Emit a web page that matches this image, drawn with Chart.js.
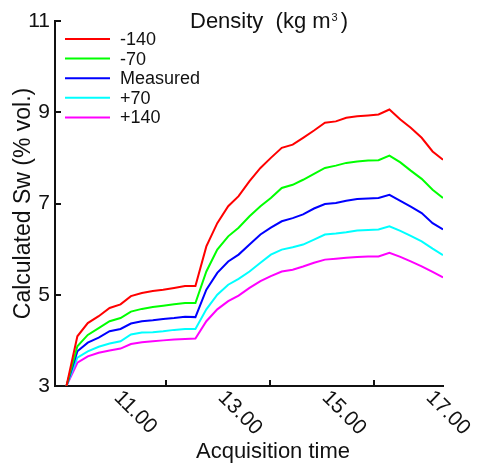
<!DOCTYPE html>
<html>
<head>
<meta charset="utf-8">
<script src="https://cdn.jsdelivr.net/npm/chart.js@4.4.1/dist/chart.umd.min.js"></script>
<style>
  html, body { margin: 0; padding: 0; background: #fff; }
  #wrap { width: 479px; height: 467px; }
</style>
</head>
<body>
<div id="wrap"><canvas id="swChart" width="479" height="467"></canvas></div>
<script>
// acquisition times in decimal hours
const times = [10.09, 10.30, 10.50, 10.71, 10.92, 11.13, 11.33, 11.54, 11.75, 11.95, 12.16, 12.37,
  12.57, 12.78, 12.99, 13.20, 13.40, 13.61, 13.82, 14.02, 14.23, 14.44, 14.64, 14.85,
  15.06, 15.27, 15.47, 15.68, 15.89, 16.09, 16.30, 16.51, 16.71, 16.92, 17.13, 17.33];

const swMinus140 = [3.0, 4.09, 4.38, 4.53, 4.71, 4.79, 4.97, 5.04, 5.08, 5.11, 5.15, 5.19,
  5.19, 6.06, 6.57, 6.94, 7.16, 7.49, 7.78, 8.00, 8.22, 8.29, 8.44, 8.60,
  8.77, 8.80, 8.88, 8.91, 8.93, 8.95, 9.06, 8.84, 8.66, 8.44, 8.14, 7.96];
const swMinus70 = [3.0, 3.87, 4.12, 4.27, 4.42, 4.49, 4.63, 4.69, 4.73, 4.76, 4.79, 4.82,
  4.82, 5.51, 5.99, 6.28, 6.47, 6.72, 6.94, 7.12, 7.34, 7.41, 7.52, 7.65,
  7.78, 7.83, 7.89, 7.92, 7.94, 7.95, 8.05, 7.90, 7.72, 7.54, 7.30, 7.12];
const swMeasured = [3.0, 3.76, 3.95, 4.06, 4.20, 4.25, 4.37, 4.42, 4.44, 4.47, 4.49, 4.52,
  4.51, 5.11, 5.48, 5.73, 5.88, 6.10, 6.32, 6.47, 6.61, 6.68, 6.76, 6.89,
  6.99, 7.01, 7.06, 7.10, 7.11, 7.12, 7.19, 7.06, 6.93, 6.79, 6.57, 6.43];
const swPlus70 = [3.0, 3.62, 3.76, 3.86, 3.93, 3.98, 4.13, 4.17, 4.18, 4.20, 4.23, 4.25,
  4.25, 4.68, 5.00, 5.22, 5.35, 5.51, 5.70, 5.88, 5.99, 6.04, 6.10, 6.21,
  6.32, 6.34, 6.37, 6.41, 6.42, 6.43, 6.50, 6.40, 6.29, 6.17, 6.01, 5.87];
const swPlus140 = [3.0, 3.51, 3.65, 3.73, 3.78, 3.82, 3.92, 3.96, 3.98, 4.00, 4.02, 4.03,
  4.04, 4.42, 4.68, 4.86, 4.98, 5.15, 5.30, 5.41, 5.51, 5.55, 5.62, 5.70,
  5.77, 5.79, 5.81, 5.83, 5.84, 5.84, 5.92, 5.83, 5.73, 5.62, 5.50, 5.38];

const seriesLabels = ['-140', '-70', 'Measured', '+70', '+140'];
const seriesColors = ['#ff0000', '#00ff00', '#0000ff', '#00ffff', '#ff00ff'];
const seriesValues = [swMinus140, swMinus70, swMeasured, swPlus70, swPlus140];

const yTicks = [3, 5, 7, 9, 11];
const xTickMarks = [12, 14, 16];
const xTickLabelHours = [11, 13, 15, 17];
const xTickLabels = ['11.00', '13.00', '15.00', '17.00'];

const FONT = '"Liberation Sans", Arial, sans-serif';
const INK = '#111111';

// Inner tick marks, rotated time labels, x title and the in-plot legend
const axisDecor = {
  id: 'axisDecor',
  afterDraw(chart) {
    const { ctx, chartArea: a } = chart;
    const x = chart.scales.x;
    const y = chart.scales.y;
    ctx.save();

    ctx.strokeStyle = INK;
    ctx.lineWidth = 2;
    ctx.beginPath();
    xTickMarks.forEach(v => {
      const px = Math.round(x.getPixelForValue(v));
      ctx.moveTo(px, a.bottom);
      ctx.lineTo(px, a.bottom - 6);
    });
    yTicks.forEach(v => {
      const py = Math.round(y.getPixelForValue(v));
      ctx.moveTo(a.left, py);
      ctx.lineTo(a.left + 6, py);
    });
    ctx.stroke();

    ctx.fillStyle = INK;
    ctx.font = '21px ' + FONT;
    ctx.textAlign = 'left';
    ctx.textBaseline = 'top';
    xTickLabelHours.forEach((h, i) => {
      ctx.save();
      ctx.translate(x.getPixelForValue(h) + 11, a.bottom + 1);
      ctx.rotate(Math.PI / 4);
      ctx.fillText(xTickLabels[i], 0, 0);
      ctx.restore();
    });

    ctx.font = '22px ' + FONT;
    ctx.textAlign = 'center';
    ctx.textBaseline = 'alphabetic';
    ctx.fillText('Acquisition time', 273, 458);

    // legend title with superscript
    ctx.textAlign = 'left';
    ctx.font = '22px ' + FONT;
    let tx = 190;
    const part1 = 'Density  (kg m';
    ctx.fillText(part1, tx, 28);
    tx += ctx.measureText(part1).width + 1;
    ctx.font = '11px ' + FONT;
    ctx.fillText('3', tx, 21);
    tx += ctx.measureText('3').width + 3;
    ctx.font = '22px ' + FONT;
    ctx.fillText(')', tx, 28);

    // legend rows
    ctx.font = '18px ' + FONT;
    ctx.textBaseline = 'middle';
    chart.data.datasets.forEach((ds, i) => {
      const ry = 39 + i * 19.6;
      ctx.strokeStyle = ds.borderColor;
      ctx.lineWidth = 2;
      ctx.beginPath();
      ctx.moveTo(65, ry);
      ctx.lineTo(110, ry);
      ctx.stroke();
      ctx.fillStyle = INK;
      ctx.fillText(ds.label, 120, ry + 1);
    });

    ctx.restore();
  }
};

const datasets = seriesValues.map((vals, i) => ({
  label: seriesLabels[i],
  data: vals.map((v, k) => ({ x: times[k], y: v })),
  borderColor: seriesColors[i],
  backgroundColor: seriesColors[i],
  borderWidth: 2,
  pointRadius: 0,
  tension: 0,
  fill: false
}));

Chart.defaults.font.family = FONT;
Chart.defaults.color = INK;

new Chart(document.getElementById('swChart').getContext('2d'), {
  type: 'line',
  data: { datasets },
  options: {
    responsive: false,
    animation: false,
    devicePixelRatio: 1,
    layout: { padding: { left: 0, right: 36, top: 21, bottom: 0 } },
    plugins: {
      legend: { display: false },
      tooltip: { enabled: false }
    },
    scales: {
      x: {
        type: 'linear',
        min: 9.87,
        max: 17.33,
        afterBuildTicks: s => { s.ticks = xTickMarks.map(v => ({ value: v })); },
        afterFit: s => { s.height = 81; },
        grid: { display: false, drawTicks: false },
        border: { display: true, color: INK, width: 2 },
        ticks: { display: false }
      },
      y: {
        type: 'linear',
        min: 3,
        max: 11,
        afterBuildTicks: s => { s.ticks = yTicks.map(v => ({ value: v })); },
        afterFit: s => { s.width = 55; },
        grid: { display: false, drawTicks: false },
        border: { display: true, color: INK, width: 2 },
        ticks: { color: INK, font: { size: 21 }, padding: 5 },
        title: {
          display: true,
          text: 'Calculated Sw (% vol.)',
          color: INK,
          font: { size: 23 },
          padding: { top: 10, bottom: 0 }
        }
      }
    }
  },
  plugins: [axisDecor]
});
</script>
</body>
</html>
